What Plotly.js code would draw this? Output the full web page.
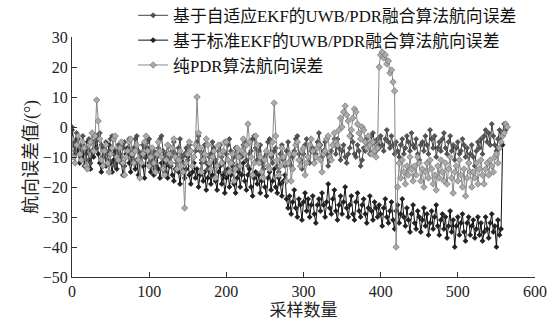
<!DOCTYPE html>
<html><head><meta charset="utf-8">
<script src="https://cdn.plot.ly/plotly-3.0.1.min.js"></script>
<style>html,body{margin:0;padding:0;background:#fff}#chart{width:559px;height:326px}</style>
</head><body><div id="chart"></div>
<script>
const seriesNames = ["基于自适应EKF的UWB/PDR融合算法航向误差","基于标准EKF的UWB/PDR融合算法航向误差","纯PDR算法航向误差"];
const sampleStep = 2;
const adaptiveEKF = [
0,-5,-8,-2,-4,-9,-6,-3,-8,-11,-7,-4,-12,-8,-5,-3,-7,-4,-2,-6,
-10,-7,-5,-11,-8,-4,-3,-9,-13,-10,-6,-9,-12,-7,-5,-10,-8,-4,-9,-11,
-7,-4,-3,-8,-12,-9,-6,-10,-7,-5,-4,-9,-11,-8,-14,-10,-7,-4,-3,-8,
-11,-9,-6,-10,-13,-8,-5,-9,-12,-7,-4,-10,-12,-9,-7,-11,-6,-8,-13,-10,
-8,-5,-3,-8,-11,-9,-6,-12,-14,-10,-9,-5,-7,-11,-13,-8,-6,-10,-12,-15,
-9,-6,-4,-8,-12,-10,-7,-13,-14,-9,-10,-6,-5,-11,-13,-9,-8,-4,-3,-7,
-11,-8,-6,-12,-14,-10,-9,-5,-4,-10,-12,-8,-7,-13,-15,-9,-6,-11,-13,-8,
-5,-9,-13,-10,-8,-4,-3,-9,-11,-14,-9,-6,-4,-10,-12,-8,-7,-12,-9,-5,
-2,-6,-10,-8,-5,-9,-13,-11,-8,-6,-4,-9,-4,-7,-11,-8,-6,-10,-12,-9,
-7,-3,-5,-9,-10,-6,-8,-13,-11,-7,-8,-4,-6,-9,-3,-2,-5,-8,-4,-7,
-3,-6,-8,-4,-1,-5,-7,-3,-6,-9,-5,-8,-10,-6,-4,-9,-7,-3,-5,-8,
-2,-6,-7,-4,-9,-11,-6,-5,-8,-3,-6,-9,-1,-4,-7,-3,-10,-7,-5,-8,
-4,-2,-7,-9,-5,-3,-8,-6,-11,-7,-5,-9,-8,-4,-6,-10,-7,-12,-9,-6,
-10,-13,-8,-5,-7,-4,-9,-3,-1,-5,-2,-6,1,-3,-6,-8,-4,-1,-5,-2,
1,-1,0];
const standardEKF = [
-1,-6,-9,-4,-8,-12,-10,-6,-13,-9,-5,-11,-14,-8,-10,-7,-3,-9,-12,-15,
-10,-7,-13,-9,-6,-12,-15,-11,-8,-14,-10,-6,-12,-16,-13,-9,-7,-12,-15,-10,
-8,-14,-11,-16,-12,-9,-13,-17,-10,-7,-12,-15,-11,-16,-13,-9,-14,-17,-12,-10,
-15,-12,-17,-13,-10,-16,-18,-14,-11,-15,-19,-13,-12,-17,-14,-10,-16,-19,-15,-12,
-17,-14,-20,-16,-12,-18,-15,-21,-17,-13,-19,-16,-12,-18,-21,-15,-13,-19,-16,-22,
-17,-14,-20,-16,-13,-19,-22,-17,-15,-20,-16,-12,-18,-21,-16,-14,-20,-23,-17,-15,
-19,-16,-22,-18,-14,-20,-23,-17,-15,-21,-18,-14,-20,-22,-17,-19,-23,-18,-16,-24,
-27,-23,-29,-25,-21,-27,-30,-24,-26,-31,-25,-22,-28,-24,-30,-26,-23,-29,-32,-26,
-24,-28,-22,-26,-30,-25,-19,-27,-29,-24,-21,-28,-31,-26,-23,-29,-25,-20,-27,-30,
-26,-23,-29,-31,-25,-22,-28,-30,-26,-24,-29,-32,-27,-23,-28,-31,-25,-27,-30,-26,
-29,-33,-27,-24,-30,-32,-28,-25,-31,-34,-28,-26,-32,-29,-24,-30,-33,-27,-31,-35,
-29,-26,-32,-34,-28,-30,-35,-31,-27,-33,-29,-36,-32,-28,-34,-30,-26,-33,-36,-31,
-29,-34,-30,-37,-33,-28,-35,-31,-40,-33,-30,-36,-32,-29,-35,-38,-32,-30,-36,-33,
-31,-37,-34,-30,-36,-32,-38,-35,-30,-34,-37,-32,-29,-35,-33,-40,-31,-36,-34,-6];
const purePDR = [
-4,-10,-12,-6,-3,-9,-11,-5,-7,-13,-14,-6,-5,-2,-8,-3,9,2,-4,-11,
-13,-8,-6,-12,-15,-9,-7,-4,-3,-10,-11,-7,-5,-12,-16,-10,-8,-5,-4,-9,
-12,-8,-6,-11,-17,-12,-9,-5,-3,-8,-13,-10,-7,-12,-15,-9,-5,-8,-10,-14,
-16,-11,-6,-9,-12,-7,-4,-10,-14,-11,-8,-13,-15,-27,-12,-9,-5,-8,-13,-10,
-6,10,-2,-7,-15,-11,-9,-4,-6,-12,-14,-10,-8,-17,-13,-6,-9,-12,-8,-5,
-5,-11,-15,-12,-9,-18,-14,-7,-10,-13,-8,-4,-9,-6,1,-5,-10,-16,-12,-3,
-6,-12,-10,-15,-17,-11,-8,-13,-14,-9,-5,8,-3,-11,-16,-13,-7,-10,-12,-18,
-12,-9,-18,-14,-9,-6,-5,-11,-13,-8,-7,-16,-12,-10,-6,-4,-8,-12,-10,-7,
-6,-11,-15,-9,-8,-4,-3,-10,-11,-6,-2,-5,-6,-1,3,0,5,7,4,2,
-3,-1,3,6,5,1,-2,-4,0,-1,-5,-7,-3,-6,-9,-5,-8,-10,-7,20,
24,25,23,24,21,22,18,19,15,12,-40,-20,-12,-17,-11,-15,-19,-13,-16,-10,
-14,-18,-13,-16,-10,-12,-18,-14,-20,-15,-12,-17,-11,-14,-19,-16,-21,-13,-17,-11,
-15,-18,-12,-19,-14,-10,-17,-22,-15,-13,-18,-11,-16,-20,-14,-23,-17,-12,-15,-20,
-15,-17,-12,-19,-14,-11,-16,-19,-14,-12,-16,-11,-13,-15,-10,-9,-12,-7,-5,-3,
-2,1,0];
const xTicks = [0,100,200,300,400,500,600];
const yTicks = [-50,-40,-30,-20,-10,0,10,20,30];
const xTitle = "采样数量";
const yTitle = "航向误差值/(°)";

function idx(arr){ return arr.map((_, i) => i * sampleStep); }

const font = "'Liberation Serif', 'Times New Roman', 'Noto Sans CJK SC', serif";
const traces = [
  {x: idx(standardEKF), y: standardEKF, name: seriesNames[1], mode: 'lines+markers', legendrank: 2,
   line: {color: '#111', width: 1}, marker: {symbol: 'diamond', size: 4, color: '#222', line: {color: '#000', width: 0.5}}},
  {x: idx(adaptiveEKF), y: adaptiveEKF, name: seriesNames[0], mode: 'lines+markers', legendrank: 1,
   line: {color: '#444', width: 1}, marker: {symbol: 'diamond', size: 4, color: '#555', line: {color: '#222', width: 0.5}}},
  {x: idx(purePDR), y: purePDR, name: seriesNames[2], mode: 'lines+markers', legendrank: 3,
   line: {color: '#888', width: 1}, marker: {symbol: 'diamond', size: 5, color: '#aaa', line: {color: '#666', width: 0.6}}}
];

const layout = {
  width: 559, height: 326,
  margin: {l: 72, r: 24, t: 37, b: 49, autoexpand: false},
  paper_bgcolor: '#fff', plot_bgcolor: '#fff',
  font: {family: font, size: 16, color: '#222'},
  showlegend: true,
  legend: {x: 0.132, y: 1.163, xanchor: 'left', yanchor: 'top', bgcolor: 'rgba(0,0,0,0)',
    font: {family: font, size: 16.8, color: '#111'}, tracegroupgap: 0, itemwidth: 30,
    traceorder: 'normal'},
  xaxis: {range: [0, 600], tickvals: xTicks, ticks: 'inside', ticklen: 5, tickcolor: '#333',
    showline: true, linecolor: '#333', linewidth: 1, showgrid: false, zeroline: false,
    title: {text: xTitle, font: {family: font, size: 17}, standoff: 4},
    tickfont: {family: font, size: 16}},
  yaxis: {range: [-50, 30], tickvals: yTicks, ticks: 'inside', ticklen: 5, tickcolor: '#333',
    showline: true, linecolor: '#333', linewidth: 1, showgrid: false, zeroline: false,
    title: {text: yTitle, font: {family: font, size: 18}, standoff: 0},
    tickfont: {family: font, size: 16}}
};
Plotly.newPlot('chart', traces, layout, {displayModeBar: false, staticPlot: true});
</script></body></html>
